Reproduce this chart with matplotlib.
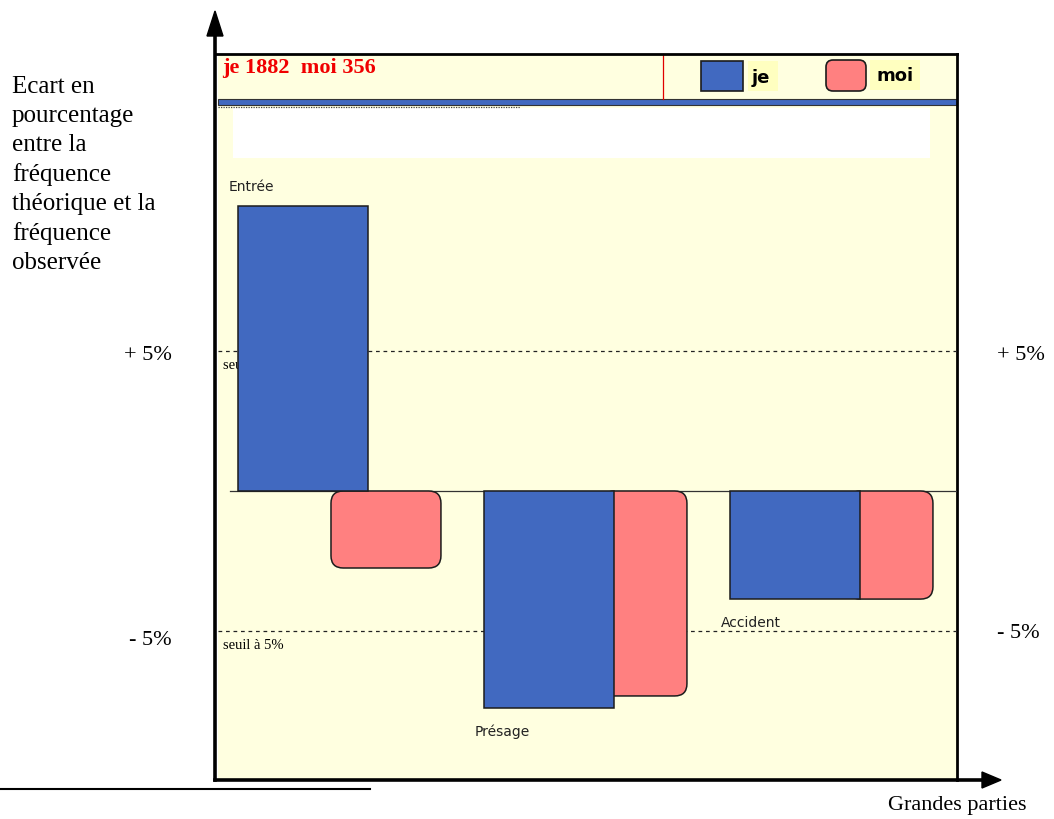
import numpy as np
import matplotlib.pyplot as plt
from matplotlib.patches import Rectangle, FancyBboxPatch, Polygon

# data (ecart in %)
categories = ['Entrée', 'Présage', 'Accident']
je_values = [10.18, -7.75, -3.86]
moi_values = [-2.75, -7.32, -3.86]
total_je = 1882
total_moi = 356
seuil = 5

# colours / layout
BLUE = '#4169C0'
PINK = '#FF8080'
PANEL = '#FFFFE0'
EDGE = '#1c1c1c'
SERIF = 'Liberation Serif'
SANS = 'DejaVu Sans'

W, H = 1054, 820
PX_X = 246.0      # pixels per category step
PX_Y = 28.0       # pixels per percent
X0, Y0 = 238, 492  # pixel of first bar left edge / zero line
PL, PR, PT, PB = 218, 957, 55, 781  # panel box in pixels

moi_offset = [0.378, 0.48, 0.48]
moi_width = [0.447, 0.345, 0.345]
je_width = 0.528

fig = plt.figure(figsize=(W / 100, H / 100), dpi=100)

# pixel overlay for the decoration
bg = fig.add_axes([0, 0, 1, 1])
bg.set_xlim(0, W)
bg.set_ylim(H, 0)
bg.axis('off')

bg.add_patch(Rectangle((PL, PT), PR - PL, PB - PT, facecolor=PANEL, edgecolor='none', zorder=0))
bg.add_patch(Rectangle((233, 109), 930 - 233, 50, facecolor='white', edgecolor='none', zorder=1))
bg.add_patch(Rectangle((PL, 100), PR - PL, 6, facecolor=BLUE, edgecolor='#333333', lw=0.8, zorder=2))
bg.plot([663, 663], [PT, 100], color='#E00000', lw=0.9, zorder=2)
bg.plot([PL, 520], [108, 108], color='#444444', lw=0.9, ls=(0, (1, 1)), zorder=2)

# header
bg.text(222, 68, f'je {total_je}  moi {total_moi}', color='#F00000', fontsize=16,
        fontweight='bold', family=SERIF, va='center', ha='left')
bg.add_patch(Rectangle((701, 62), 42, 30, facecolor=BLUE, edgecolor=EDGE, lw=1.2, zorder=3))
bg.add_patch(Rectangle((748, 62), 30, 30, facecolor='#FFFFC0', edgecolor='none', zorder=2))
bg.text(752, 78, 'je', fontsize=13, fontweight='bold', family=SANS, va='center', ha='left', zorder=3)
bg.add_patch(FancyBboxPatch((826, 61), 40, 31, boxstyle='round,pad=0,rounding_size=7',
                            facecolor=PINK, edgecolor=EDGE, lw=1.2, zorder=3))
bg.add_patch(Rectangle((870, 61), 50, 30, facecolor='#FFFFC0', edgecolor='none', zorder=2))
bg.text(876, 76, 'moi', fontsize=13, fontweight='bold', family=SANS, va='center', ha='left', zorder=3)

# panel borders and axes arrows
bg.plot([PL - 2, PR], [PT, PT], color='black', lw=2, zorder=4)
bg.plot([PR, PR], [PT, PB], color='black', lw=2, zorder=4)
bg.plot([215, 215], [PB, 35], color='black', lw=2.6, zorder=4)
bg.add_patch(Polygon([(207, 37), (223, 37), (215, 12)], closed=True, color='black', zorder=4))
bg.plot([215, 985], [PB, PB], color='black', lw=2.6, zorder=4)
bg.add_patch(Polygon([(982, 773), (982, 789), (1001, 781)], closed=True, color='black', zorder=4))
bg.plot([0, 370], [790, 790], color='black', lw=1.5)

# texts outside the panel
bg.text(12, 76, 'Ecart en\npourcentage\nentre la\nfréquence\nthéorique et la\nfréquence\nobservée',
        family=SERIF, fontsize=18, va='top', ha='left', linespacing=1.4)
bg.text(172, 356, '+ 5%', family=SERIF, fontsize=16, va='center', ha='right')
bg.text(172, 641, '- 5%', family=SERIF, fontsize=16, va='center', ha='right')
bg.text(997, 356, '+ 5%', family=SERIF, fontsize=16, va='center', ha='left')
bg.text(997, 634, '- 5%', family=SERIF, fontsize=16, va='center', ha='left')
bg.text(1026, 806, 'Grandes parties', family=SERIF, fontsize=16, va='center', ha='right')

# data axes over the panel
ax = fig.add_axes([PL / W, 1 - PB / H, (PR - PL) / W, (PB - PT) / H])
ax.patch.set_alpha(0)
ax.set_xlim((PL - X0) / PX_X, (PR - X0) / PX_X)
ax.set_ylim(-(PB - Y0) / PX_Y, (Y0 - PT) / PX_Y)
ax.axis('off')

idx = np.arange(len(categories))
ax.axhline(0, xmin=12 / (PR - PL), xmax=1, color='#333333', lw=0.9, zorder=1)
for s in (seuil, -seuil):
    ax.axhline(s, color='#222222', lw=0.9, ls=(0, (3, 3)), zorder=1.5)
    ax.annotate('seuil à 5%', xy=(0, s), xycoords=('axes fraction', 'data'),
                xytext=(3.5, -10), textcoords='offset points', va='center', ha='left',
                fontsize=10.5, family=SERIF, zorder=1.5)

ax.bar(idx, je_values, width=je_width, align='edge', color=BLUE, edgecolor=EDGE, lw=1.1, zorder=3)
for i, v in enumerate(moi_values):
    ax.add_patch(FancyBboxPatch((i + moi_offset[i], min(0, v)), moi_width[i], abs(v),
                                boxstyle='round,pad=0,rounding_size=0.05',
                                mutation_aspect=PX_X / PX_Y,
                                facecolor=PINK, edgecolor=EDGE, lw=1.1, zorder=2))

for i, cat in enumerate(categories):
    if je_values[i] > 0:
        end, dy = je_values[i], 14.5
    else:
        end, dy = min(je_values[i], moi_values[i]), -16.5
    ax.annotate(cat, xy=(i, end), xytext=(-6.5, dy), textcoords='offset points',
                ha='left', va='center', fontsize=10, family=SANS, color='#222222')

fig.savefig('out.png', dpi=100)
